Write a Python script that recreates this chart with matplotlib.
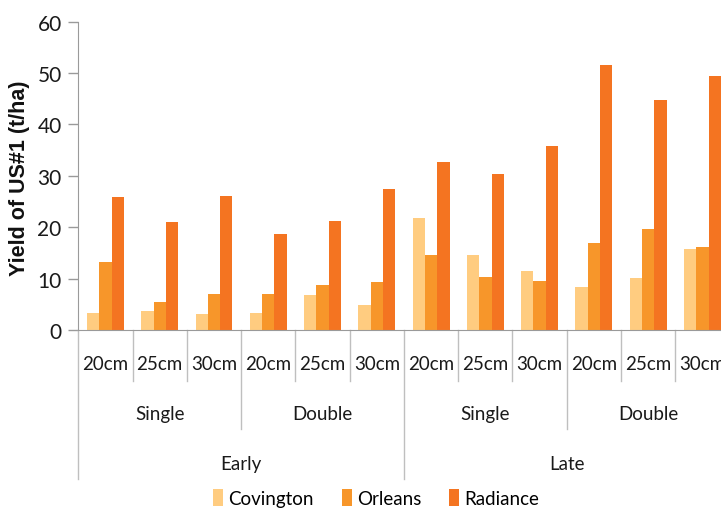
import matplotlib
matplotlib.use('Agg')
import matplotlib.pyplot as plt
import numpy as np

# yield of US#1 potatoes (t/ha) by planting date / row type / spacing
spacings = ['20cm', '25cm', '30cm'] * 4
rows = ['Single', 'Double', 'Single', 'Double']
dates = ['Early', 'Late']

covington = [3.4, 3.7, 3.2, 3.4, 6.8, 4.9, 21.7, 14.6, 11.5, 8.4, 10.1, 15.8]
orleans = [13.2, 5.4, 7.0, 7.0, 8.7, 9.4, 14.6, 10.3, 9.6, 17.0, 19.6, 16.1]
radiance = [25.8, 21.1, 26.1, 18.7, 21.3, 27.5, 32.7, 30.4, 35.9, 51.6, 44.7, 49.4]

yticks = [0, 10, 20, 30, 40, 50, 60]

label_font = ['Lato', 'DejaVu Sans']
sep_color = '#BFBFBF'
axis_color = '#9A9A9A'
txt_color = '#1A1A1A'

fig = plt.figure(figsize=(7.21, 5.10), dpi=100)
ax = fig.add_axes([0.1086, 0.351, 0.9033, 0.6045])

x = np.arange(len(spacings))
w = 0.227
b1 = ax.bar(x - w, covington, w, color='#FFCC80', label='Covington')
b2 = ax.bar(x, orleans, w, color='#F7962A', label='Orleans')
b3 = ax.bar(x + w, radiance, w, color='#F47421', label='Radiance')

ax.set_xlim(-0.5, len(spacings) - 0.5)
ax.set_ylim(0, 60)
ax.set_yticks(yticks)
ax.set_yticklabels([str(t) for t in yticks], family=label_font, fontsize=15, color=txt_color)
ax.tick_params(axis='y', length=7, color=axis_color, width=1, pad=5)
ax.set_xticks([])
for s in ['top', 'right']:
    ax.spines[s].set_visible(False)
ax.spines['left'].set_color(axis_color)
ax.spines['bottom'].set_color(axis_color)

ax.set_ylabel('Yield of US#1 (t/ha)', fontsize=15.5, fontweight='bold',
              family=['Liberation Sans', 'DejaVu Sans'], color='#111111')
ax.yaxis.set_label_coords(-0.074, 0.495)

# multi-level category axis drawn below the plot
ax_h_px = 0.6045 * 510
def below(px):
    return -px / ax_h_px

tr = ax.get_xaxis_transform()

def vline(xpos, depth):
    ax.plot([xpos, xpos], [0, below(depth)], transform=tr, color=sep_color,
            lw=1, clip_on=False)

for i in range(len(spacings) + 1):
    xpos = i - 0.5
    if i % 6 == 0:
        depth = 149
    elif i % 3 == 0:
        depth = 99
    else:
        depth = 51
    vline(xpos, depth)

for i, lab in enumerate(spacings):
    ax.text(i, below(34), lab, transform=tr, ha='center', va='center',
            family=label_font, fontsize=13.5, color=txt_color)
for j, lab in enumerate(rows):
    ax.text(j * 3 + 1, below(84), lab, transform=tr, ha='center', va='center',
            family=label_font, fontsize=13.5, color=txt_color)
for k, lab in enumerate(dates):
    ax.text(k * 6 + 2.5, below(134), lab, transform=tr, ha='center', va='center',
            family=label_font, fontsize=13.5, color=txt_color)

fig.legend(handles=[b1, b2, b3], loc='center', bbox_to_anchor=(376 / 721, 1 - 499 / 510),
           ncol=3, frameon=False, handlelength=0.55, handleheight=1.0,
           handletextpad=0.25, columnspacing=1.5,
           prop={'family': label_font, 'size': 13.5})

fig.savefig('out.png', dpi=100)
